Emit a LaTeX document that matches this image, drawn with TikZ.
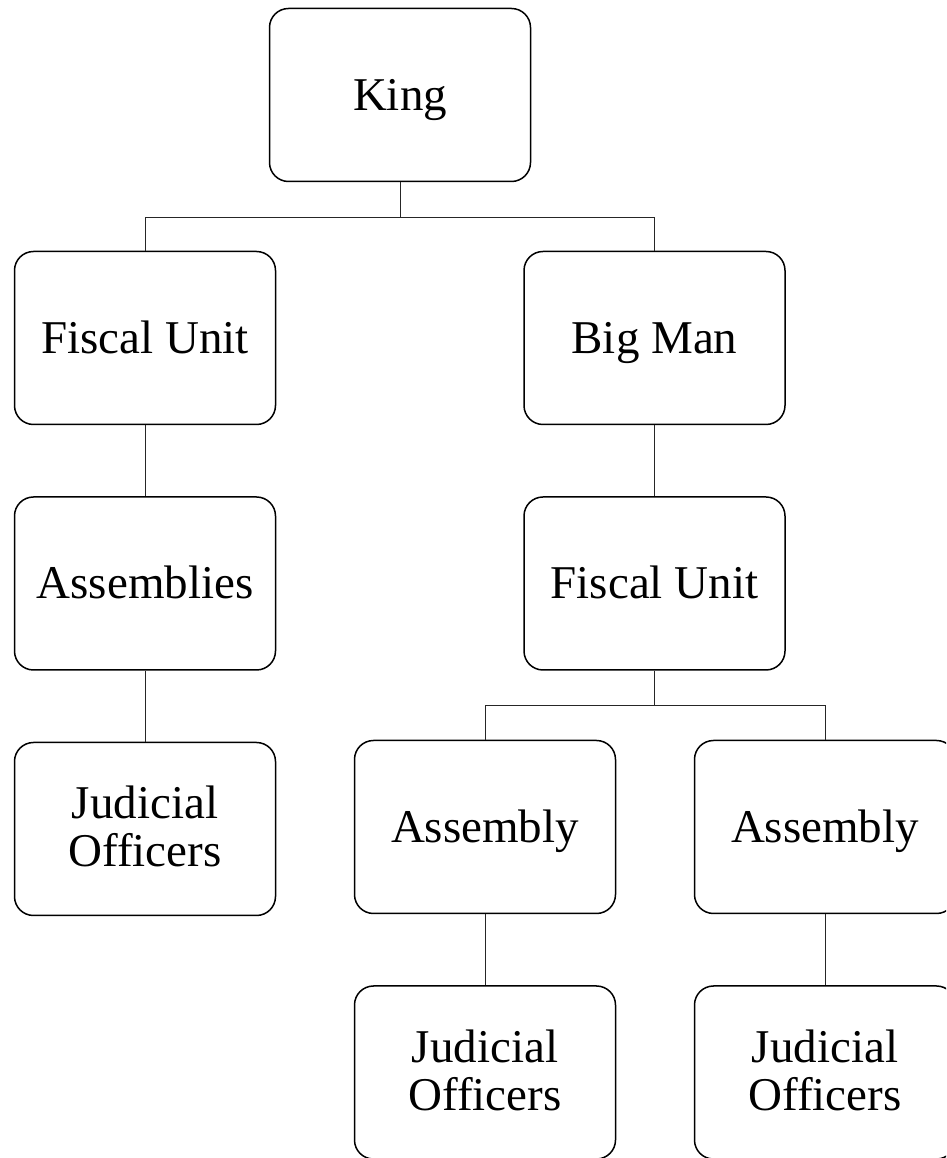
\documentclass[tikz,border=0pt]{standalone}
\usepackage{fontspec}
\setmainfont{Liberation Serif}
\usetikzlibrary{positioning}

\begin{document}
\begin{tikzpicture}[x=1pt,y=1pt,node distance=71pt,
    box/.style={draw,line width=1.5pt,rounded corners=19pt,minimum width=261pt,minimum height=173pt,align=center,
      text height=31pt,text depth=0pt,font=\fontsize{47}{48}\selectfont},
    twoline/.style={box,text height=79pt,text depth=3pt},
    link/.style={line width=0.9pt,black!85}]
    \clip (0,0) rectangle (946,1158);
    \node[box] (king) at (400,1063) {King};
    \node[box] (fiscL) at (145,820) {Fiscal Unit};
    \node[box] (bigman) at (654.5,820) {Big Man};
    \node[box,below=of fiscL] (assemblies) {Assemblies};
    \node[twoline,below=of assemblies] (judL) {Judicial\\Officers};
    \node[box,below=of bigman] (fiscR) {Fiscal Unit};
    \node[box] (asmM) at (485,331) {Assembly};
    \node[box] (asmR) at (825,331) {Assembly};
    \node[twoline,below=of asmM] (judM) {Judicial\\Officers};
    \node[twoline,below=of asmR] (judR) {Judicial\\Officers};
    \draw[link] (king.south) -- ++(0,-35) -| (fiscL.north);
    \draw[link] (king.south) -- ++(0,-35) -| (bigman.north);
    \draw[link] (fiscL) -- (assemblies); \draw[link] (assemblies) -- (judL);
    \draw[link] (bigman) -- (fiscR);
    \draw[link] (fiscR.south) -- ++(0,-35) -| (asmM.north);
    \draw[link] (fiscR.south) -- ++(0,-35) -| (asmR.north);
    \draw[link] (asmM) -- (judM); \draw[link] (asmR) -- (judR);
  \end{tikzpicture}
\end{document}
